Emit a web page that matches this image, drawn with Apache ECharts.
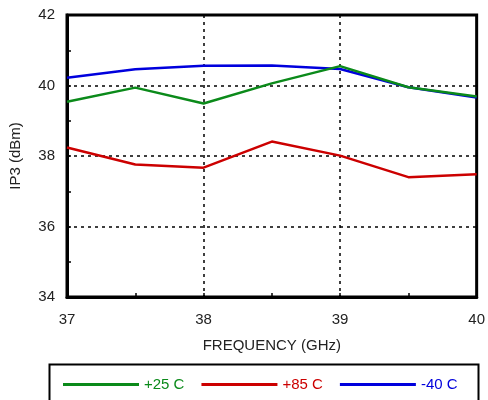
<!DOCTYPE html>
<html><head><meta charset="utf-8">
<script src="https://cdn.jsdelivr.net/npm/echarts@6/dist/echarts.min.js"></script>
<style>html,body{margin:0;padding:0;background:#fff}#c{width:488px;height:400px}</style>
</head><body><div id="c"></div>
<script>
const freqs = [37, 37.5, 38, 38.5, 39, 39.5, 40];
const t25 = [39.54, 39.94, 39.49, 40.06, 40.55, 39.95, 39.69];
const t85 = [38.24, 37.76, 37.67, 38.41, 38.01, 37.40, 37.48];
const tm40 = [40.22, 40.46, 40.56, 40.57, 40.47, 39.95, 39.66];
const seriesNames = ['+25 C', '+85 C', '-40 C'];
const colors = ['#0b8a1a', '#cc0000', '#0000dd'];
const pair = v => freqs.map((f, i) => [f, v[i]]);
const chart = echarts.init(document.getElementById('c'));
const font = 'Liberation Sans, Arial, Helvetica, sans-serif';
chart.setOption({
  animation: false,
  textStyle: {fontFamily: font},
  grid: {left: 64, right: 10, top: 15, bottom: 103, show: true, borderColor: '#000', borderWidth: 3},
  xAxis: {
    type: 'value', min: 37, max: 40, interval: 1,
    name: 'FREQUENCY (GHz)', nameLocation: 'middle', nameGap: 41,
    nameTextStyle: {color: '#222', fontSize: 15, fontFamily: font},
    axisLine: {show: true, lineStyle: {color: '#000', width: 3}},
    axisTick: {show: true, inside: true, length: 4, lineStyle: {color: '#000', width: 1.5}},
    minorTick: {show: true, splitNumber: 2, length: 4, lineStyle: {color: '#000', width: 1.5}},
    axisLabel: {color: '#222', fontSize: 15, margin: 15, fontFamily: font},
    splitLine: {show: true, lineStyle: {color: '#000', type: [3, 4], width: 1.5}}
  },
  yAxis: {
    type: 'value', min: 34, max: 42, interval: 2,
    name: 'IP3 (dBm)', nameLocation: 'middle', nameGap: 44,
    nameTextStyle: {color: '#222', fontSize: 15, fontFamily: font},
    axisLine: {show: true, lineStyle: {color: '#000', width: 3}},
    axisTick: {show: true, inside: true, length: 4, lineStyle: {color: '#000', width: 1.5}},
    minorTick: {show: true, splitNumber: 2, length: 4, lineStyle: {color: '#000', width: 1.5}},
    axisLabel: {color: '#222', fontSize: 15, margin: 12, fontFamily: font},
    splitLine: {show: true, lineStyle: {color: '#000', type: [3, 4], width: 1.5}}
  },
  graphic: [{type: 'rect', left: 47, top: 362, shape: {width: 429, height: 60},
    style: {fill: 'none', stroke: '#000', lineWidth: 2}, z: 0}],
  legend: {
    left: 58, top: 372, itemWidth: 76, itemHeight: 16, itemGap: 17, itemTextGap: 8,
    icon: 'path://M0,0 L76,0 L76,3 L0,3 Z',
    data: seriesNames.map((n, i) => ({name: n, textStyle: {color: colors[i], fontSize: 15, fontFamily: font}}))
  },
  series: [t25, t85, tm40].map((d, i) => ({
    name: seriesNames[i], type: 'line', data: pair(d), symbol: 'none',
    lineStyle: {color: colors[i], width: 2.5}, itemStyle: {color: colors[i]}, z: 3 - i
  }))
});
</script></body></html>
